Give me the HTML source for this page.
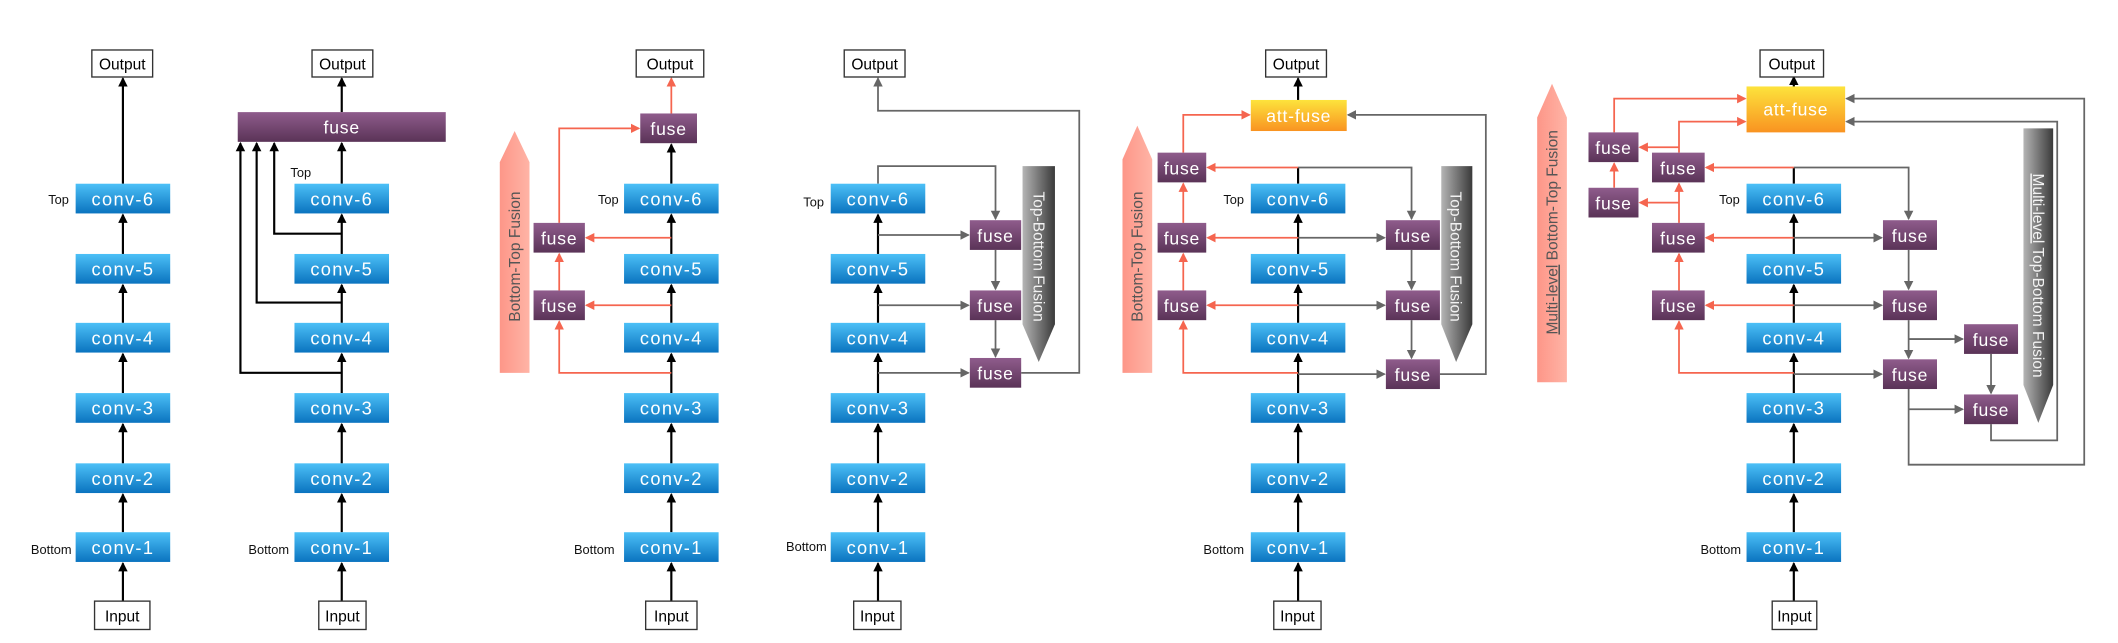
<!DOCTYPE html>
<html><head><meta charset="utf-8"><style>
html,body{margin:0;padding:0;background:#fff;}
svg{display:block;}
text{font-family:"Liberation Sans",sans-serif;}
.cv{fill:url(#gb);}
.cl{fill:#fff;font-size:13.5px;text-anchor:middle;letter-spacing:1px;}
.fz{fill:url(#gp);}
.fl{fill:#fff;font-size:13px;text-anchor:middle;letter-spacing:0.6px;}
.bx{fill:#fff;stroke:#333;stroke-width:1;}
.bl{fill:#000;font-size:11.5px;text-anchor:middle;}
.lb{fill:#111;font-size:9.5px;}
.k{stroke:#000;stroke-width:1.6;fill:none;}
.r{stroke:#f5654f;stroke-width:1.3;fill:none;}
.g{stroke:#666;stroke-width:1.3;fill:none;}
.ka{marker-end:url(#mk);}
.ra{marker-end:url(#mr);}
.ga{marker-end:url(#mg);}
</style></head><body>
<svg width="2118" height="643" viewBox="0 0 1568 476" preserveAspectRatio="none" xmlns="http://www.w3.org/2000/svg">
<defs>
<linearGradient id="gb" x1="0" y1="0" x2="0" y2="1"><stop offset="0" stop-color="#4cc0f7"/><stop offset="1" stop-color="#0a73bf"/></linearGradient>
<linearGradient id="gp" x1="0" y1="0" x2="0" y2="1"><stop offset="0" stop-color="#8f5c8c"/><stop offset="1" stop-color="#5a3357"/></linearGradient>
<linearGradient id="go" x1="0" y1="0" x2="0" y2="1"><stop offset="0" stop-color="#fde33c"/><stop offset="1" stop-color="#f99321"/></linearGradient>
<linearGradient id="gk" x1="0" y1="0" x2="1" y2="0"><stop offset="0" stop-color="#fd9688"/><stop offset="1" stop-color="#ffb4a6"/></linearGradient>
<linearGradient id="gg" x1="0" y1="0" x2="1" y2="0"><stop offset="0" stop-color="#b5b5b5"/><stop offset="1" stop-color="#3a3a3a"/></linearGradient>
<marker id="mk" markerUnits="userSpaceOnUse" markerWidth="8" markerHeight="8" refX="6" refY="4" orient="auto"><path d="M0,0.5 L7,4 L0,7.5 Z" fill="#000"/></marker>
<marker id="mr" markerUnits="userSpaceOnUse" markerWidth="8" markerHeight="8" refX="6" refY="4" orient="auto"><path d="M0,0.5 L7,4 L0,7.5 Z" fill="#f5654f"/></marker>
<marker id="mg" markerUnits="userSpaceOnUse" markerWidth="8" markerHeight="8" refX="6" refY="4" orient="auto"><path d="M0,0.5 L7,4 L0,7.5 Z" fill="#666"/></marker>
</defs>

<!-- ===== Panel 1 ===== -->
<g>
<path class="k ka" d="M91,445V417"/><path class="k ka" d="M91,394V366"/><path class="k ka" d="M91,343V314"/>
<path class="k ka" d="M91,291V262"/><path class="k ka" d="M91,239V211"/><path class="k ka" d="M91,188V159"/>
<path class="k ka" d="M91,136V58"/>
<rect class="bx" x="68" y="37" width="45" height="20"/><text class="bl" x="90.5" y="51.5">Output</text>
<rect class="bx" x="70" y="445" width="41" height="21"/><text class="bl" x="90.5" y="460">Input</text>
<rect class="cv" x="56" y="136" width="70" height="22"/><text class="cl" x="91" y="152">conv-6</text>
<rect class="cv" x="56" y="188" width="70" height="22"/><text class="cl" x="91" y="204">conv-5</text>
<rect class="cv" x="56" y="239" width="70" height="22"/><text class="cl" x="91" y="255">conv-4</text>
<rect class="cv" x="56" y="291" width="70" height="22"/><text class="cl" x="91" y="307">conv-3</text>
<rect class="cv" x="56" y="343" width="70" height="22"/><text class="cl" x="91" y="359">conv-2</text>
<rect class="cv" x="56" y="394" width="70" height="22"/><text class="cl" x="91" y="410">conv-1</text>
<text class="lb" x="51" y="151" text-anchor="end">Top</text>
<text class="lb" x="53" y="410" text-anchor="end">Bottom</text>
</g>

<!-- ===== Panel 2 ===== -->
<g>
<path class="k ka" d="M253,445V417"/><path class="k ka" d="M253,394V366"/><path class="k ka" d="M253,343V314"/>
<path class="k ka" d="M253,291V262"/><path class="k ka" d="M253,239V211"/><path class="k ka" d="M253,188V159"/>
<path class="k ka" d="M253,136V106"/><path class="k ka" d="M253,83V58"/>
<path class="k ka" d="M253,173H203V106"/><path class="k ka" d="M253,224H190V106"/><path class="k ka" d="M253,276H178V106"/>
<rect class="bx" x="231" y="37" width="45" height="20"/><text class="bl" x="253.5" y="51.5">Output</text>
<rect class="bx" x="236" y="445" width="35" height="21"/><text class="bl" x="253.5" y="460">Input</text>
<rect class="fz" x="176" y="83" width="154" height="22"/><text class="fl" x="253" y="99">fuse</text>
<rect class="cv" x="218" y="136" width="70" height="22"/><text class="cl" x="253" y="152">conv-6</text>
<rect class="cv" x="218" y="188" width="70" height="22"/><text class="cl" x="253" y="204">conv-5</text>
<rect class="cv" x="218" y="239" width="70" height="22"/><text class="cl" x="253" y="255">conv-4</text>
<rect class="cv" x="218" y="291" width="70" height="22"/><text class="cl" x="253" y="307">conv-3</text>
<rect class="cv" x="218" y="343" width="70" height="22"/><text class="cl" x="253" y="359">conv-2</text>
<rect class="cv" x="218" y="394" width="70" height="22"/><text class="cl" x="253" y="410">conv-1</text>
<text class="lb" x="215" y="131">Top</text>
<text class="lb" x="214" y="410" text-anchor="end">Bottom</text>
</g>

<!-- ===== Panel 3 ===== -->
<g>
<polygon points="370,276 370,120 381,97 392,120 392,276" fill="url(#gk)"/>
<text x="0" y="0" transform="translate(385,190) rotate(-90)" fill="#555" font-size="11.5" text-anchor="middle">Bottom-Top Fusion</text>
<path class="k ka" d="M497,445V417"/><path class="k ka" d="M497,394V366"/><path class="k ka" d="M497,343V314"/>
<path class="k ka" d="M497,291V262"/><path class="k ka" d="M497,239V211"/><path class="k ka" d="M497,188V159"/>
<path class="k ka" d="M497,136V107"/>
<path class="r ra" d="M497,84V58"/>
<path class="r ra" d="M497,176H434"/><path class="r ra" d="M497,226H434"/>
<path class="r ra" d="M497,276H414V238"/><path class="r ra" d="M414,215V188"/>
<path class="r ra" d="M414,165V95H473"/>
<rect class="bx" x="471" y="37" width="50" height="20"/><text class="bl" x="496" y="51.5">Output</text>
<rect class="bx" x="478" y="445" width="38" height="21"/><text class="bl" x="497" y="460">Input</text>
<rect class="fz" x="474" y="84" width="42" height="22"/><text class="fl" x="495" y="100">fuse</text>
<rect class="fz" x="395" y="165" width="38" height="22"/><text class="fl" x="414" y="181">fuse</text>
<rect class="fz" x="395" y="215" width="38" height="22"/><text class="fl" x="414" y="231">fuse</text>
<rect class="cv" x="462" y="136" width="70" height="22"/><text class="cl" x="497" y="152">conv-6</text>
<rect class="cv" x="462" y="188" width="70" height="22"/><text class="cl" x="497" y="204">conv-5</text>
<rect class="cv" x="462" y="239" width="70" height="22"/><text class="cl" x="497" y="255">conv-4</text>
<rect class="cv" x="462" y="291" width="70" height="22"/><text class="cl" x="497" y="307">conv-3</text>
<rect class="cv" x="462" y="343" width="70" height="22"/><text class="cl" x="497" y="359">conv-2</text>
<rect class="cv" x="462" y="394" width="70" height="22"/><text class="cl" x="497" y="410">conv-1</text>
<text class="lb" x="458" y="151" text-anchor="end">Top</text>
<text class="lb" x="455" y="410" text-anchor="end">Bottom</text>
</g>

<!-- ===== Panel 4 ===== -->
<g>
<polygon points="757,123 781,123 781,240 769,268 757,240" fill="url(#gg)"/>
<text x="0" y="0" transform="translate(765,190) rotate(90)" fill="#f2f2f2" font-size="11.5" text-anchor="middle">Top-Bottom Fusion</text>
<path class="k ka" d="M650,445V417"/><path class="k ka" d="M650,394V366"/><path class="k ka" d="M650,343V314"/>
<path class="k ka" d="M650,291V262"/><path class="k ka" d="M650,239V211"/><path class="k ka" d="M650,188V159"/>
<path class="g ga" d="M650,136V123H737V162"/>
<path class="g ga" d="M650,174H717"/><path class="g ga" d="M650,226H717"/><path class="g ga" d="M650,276H717"/>
<path class="g ga" d="M737,185V214"/><path class="g ga" d="M737,237V264"/>
<path class="g ga" d="M756,276H799V82H650V58"/>
<rect class="bx" x="625" y="37" width="45" height="20"/><text class="bl" x="647.5" y="51.5">Output</text>
<rect class="bx" x="632" y="445" width="35" height="21"/><text class="bl" x="649.5" y="460">Input</text>
<rect class="fz" x="718" y="163" width="38" height="22"/><text class="fl" x="737" y="179">fuse</text>
<rect class="fz" x="718" y="215" width="38" height="22"/><text class="fl" x="737" y="231">fuse</text>
<rect class="fz" x="718" y="265" width="38" height="22"/><text class="fl" x="737" y="281">fuse</text>
<rect class="cv" x="615" y="136" width="70" height="22"/><text class="cl" x="650" y="152">conv-6</text>
<rect class="cv" x="615" y="188" width="70" height="22"/><text class="cl" x="650" y="204">conv-5</text>
<rect class="cv" x="615" y="239" width="70" height="22"/><text class="cl" x="650" y="255">conv-4</text>
<rect class="cv" x="615" y="291" width="70" height="22"/><text class="cl" x="650" y="307">conv-3</text>
<rect class="cv" x="615" y="343" width="70" height="22"/><text class="cl" x="650" y="359">conv-2</text>
<rect class="cv" x="615" y="394" width="70" height="22"/><text class="cl" x="650" y="410">conv-1</text>
<text class="lb" x="610" y="153" text-anchor="end">Top</text>
<text class="lb" x="612" y="408" text-anchor="end">Bottom</text>
</g>

<!-- ===== Panel 5 ===== -->
<g>
<polygon points="831,276 831,118 842,93 853,118 853,276" fill="url(#gk)"/>
<text x="0" y="0" transform="translate(846,190) rotate(-90)" fill="#555" font-size="11.5" text-anchor="middle">Bottom-Top Fusion</text>
<polygon points="1067,123 1090,123 1090,240 1078,268 1067,240" fill="url(#gg)"/>
<text x="0" y="0" transform="translate(1074,190) rotate(90)" fill="#f2f2f2" font-size="11.5" text-anchor="middle">Top-Bottom Fusion</text>
<path class="k ka" d="M961,445V417"/><path class="k ka" d="M961,394V366"/><path class="k ka" d="M961,343V314"/>
<path class="k ka" d="M961,291V262"/><path class="k ka" d="M961,239V211"/><path class="k ka" d="M961,188V159"/>
<path class="k" d="M961,136V124"/><path class="k ka" d="M961,74V58"/>
<path class="g ga" d="M961,124H1045V162"/>
<path class="g ga" d="M961,176H1025"/><path class="g ga" d="M961,226H1025"/><path class="g ga" d="M961,277H1025"/>
<path class="g ga" d="M1045,185V214"/><path class="g ga" d="M1045,237V265"/>
<path class="g ga" d="M1066,277H1100V85H998"/>
<path class="r ra" d="M961,124H894"/><path class="r ra" d="M961,176H894"/><path class="r ra" d="M961,226H894"/>
<path class="r ra" d="M961,276H876V238"/><path class="r ra" d="M876,215V188"/><path class="r ra" d="M876,165V136"/>
<path class="r ra" d="M876,113V85H925"/>
<rect class="bx" x="937" y="37" width="45" height="20"/><text class="bl" x="959.5" y="51.5">Output</text>
<rect class="bx" x="943" y="445" width="35" height="21"/><text class="bl" x="960.5" y="460">Input</text>
<rect x="926" y="74" width="71" height="23" fill="url(#go)"/><text class="fl" x="961.5" y="90.5">att-fuse</text>
<rect class="fz" x="857" y="113" width="36" height="22"/><text class="fl" x="875" y="129">fuse</text>
<rect class="fz" x="857" y="165" width="36" height="22"/><text class="fl" x="875" y="181">fuse</text>
<rect class="fz" x="857" y="215" width="36" height="22"/><text class="fl" x="875" y="231">fuse</text>
<rect class="fz" x="1026" y="163" width="40" height="22"/><text class="fl" x="1046" y="179">fuse</text>
<rect class="fz" x="1026" y="215" width="40" height="22"/><text class="fl" x="1046" y="231">fuse</text>
<rect class="fz" x="1026" y="266" width="40" height="22"/><text class="fl" x="1046" y="282">fuse</text>
<rect class="cv" x="926" y="136" width="70" height="22"/><text class="cl" x="961" y="152">conv-6</text>
<rect class="cv" x="926" y="188" width="70" height="22"/><text class="cl" x="961" y="204">conv-5</text>
<rect class="cv" x="926" y="239" width="70" height="22"/><text class="cl" x="961" y="255">conv-4</text>
<rect class="cv" x="926" y="291" width="70" height="22"/><text class="cl" x="961" y="307">conv-3</text>
<rect class="cv" x="926" y="343" width="70" height="22"/><text class="cl" x="961" y="359">conv-2</text>
<rect class="cv" x="926" y="394" width="70" height="22"/><text class="cl" x="961" y="410">conv-1</text>
<text class="lb" x="921" y="151" text-anchor="end">Top</text>
<text class="lb" x="921" y="410" text-anchor="end">Bottom</text>
</g>

<!-- ===== Panel 6 ===== -->
<g>
<polygon points="1138,283 1138,87 1149,62 1160,87 1160,283" fill="url(#gk)"/>
<text x="0" y="0" transform="translate(1153,172) rotate(-90)" fill="#555" font-size="11.5" text-anchor="middle"><tspan text-decoration="underline">Multi-level</tspan> Bottom-Top Fusion</text>
<polygon points="1498,95 1520,95 1520,285 1509,313 1498,285" fill="url(#gg)"/>
<text x="0" y="0" transform="translate(1505,204) rotate(90)" fill="#f2f2f2" font-size="11.5" text-anchor="middle"><tspan text-decoration="underline">Multi-level</tspan> Top-Bottom Fusion</text>
<path class="k ka" d="M1328,445V417"/><path class="k ka" d="M1328,394V366"/><path class="k ka" d="M1328,343V314"/>
<path class="k ka" d="M1328,291V262"/><path class="k ka" d="M1328,239V211"/><path class="k ka" d="M1328,188V159"/>
<path class="k" d="M1328,136V124"/><path class="k ka" d="M1328,64V57"/>
<path class="g ga" d="M1328,124H1413V162"/>
<path class="g ga" d="M1328,176H1393"/><path class="g ga" d="M1328,226H1393"/><path class="g ga" d="M1328,277H1393"/>
<path class="g ga" d="M1413,185V214"/><path class="g ga" d="M1413,237V265"/>
<path class="g ga" d="M1413,251H1453"/><path class="g ga" d="M1413,303H1453"/>
<path class="g ga" d="M1474,262V291"/>
<path class="g ga" d="M1413,288V344H1543V73H1367"/>
<path class="g ga" d="M1474,314V326H1523V90H1367"/>
<path class="r ra" d="M1328,124H1263"/><path class="r ra" d="M1328,176H1263"/><path class="r ra" d="M1328,226H1263"/>
<path class="r ra" d="M1328,276H1243V238"/><path class="r ra" d="M1243,215V188"/><path class="r ra" d="M1243,165V136"/>
<path class="r ra" d="M1243,113V90H1292"/>
<path class="r ra" d="M1243,109H1214"/><path class="r ra" d="M1243,150H1214"/>
<path class="r ra" d="M1195,139V121"/>
<path class="r ra" d="M1195,98V73H1292"/>
<rect class="bx" x="1303" y="37" width="47" height="20"/><text class="bl" x="1326.5" y="51.5">Output</text>
<rect class="bx" x="1312" y="445" width="33" height="21"/><text class="bl" x="1328.5" y="460">Input</text>
<rect x="1293" y="64" width="73" height="34" fill="url(#go)"/><text class="fl" x="1329.5" y="85.5">att-fuse</text>
<rect class="fz" x="1176" y="98" width="37" height="22"/><text class="fl" x="1194.5" y="114">fuse</text>
<rect class="fz" x="1176" y="139" width="37" height="22"/><text class="fl" x="1194.5" y="155">fuse</text>
<rect class="fz" x="1223" y="113" width="39" height="22"/><text class="fl" x="1242.5" y="129">fuse</text>
<rect class="fz" x="1223" y="165" width="39" height="22"/><text class="fl" x="1242.5" y="181">fuse</text>
<rect class="fz" x="1223" y="215" width="39" height="22"/><text class="fl" x="1242.5" y="231">fuse</text>
<rect class="fz" x="1394" y="163" width="40" height="22"/><text class="fl" x="1414" y="179">fuse</text>
<rect class="fz" x="1394" y="215" width="40" height="22"/><text class="fl" x="1414" y="231">fuse</text>
<rect class="fz" x="1394" y="266" width="40" height="22"/><text class="fl" x="1414" y="282">fuse</text>
<rect class="fz" x="1454" y="240" width="40" height="22"/><text class="fl" x="1474" y="256">fuse</text>
<rect class="fz" x="1454" y="292" width="40" height="22"/><text class="fl" x="1474" y="308">fuse</text>
<rect class="cv" x="1293" y="136" width="70" height="22"/><text class="cl" x="1328" y="152">conv-6</text>
<rect class="cv" x="1293" y="188" width="70" height="22"/><text class="cl" x="1328" y="204">conv-5</text>
<rect class="cv" x="1293" y="239" width="70" height="22"/><text class="cl" x="1328" y="255">conv-4</text>
<rect class="cv" x="1293" y="291" width="70" height="22"/><text class="cl" x="1328" y="307">conv-3</text>
<rect class="cv" x="1293" y="343" width="70" height="22"/><text class="cl" x="1328" y="359">conv-2</text>
<rect class="cv" x="1293" y="394" width="70" height="22"/><text class="cl" x="1328" y="410">conv-1</text>
<text class="lb" x="1288" y="151" text-anchor="end">Top</text>
<text class="lb" x="1289" y="410" text-anchor="end">Bottom</text>
</g>
</svg>
</body></html>
